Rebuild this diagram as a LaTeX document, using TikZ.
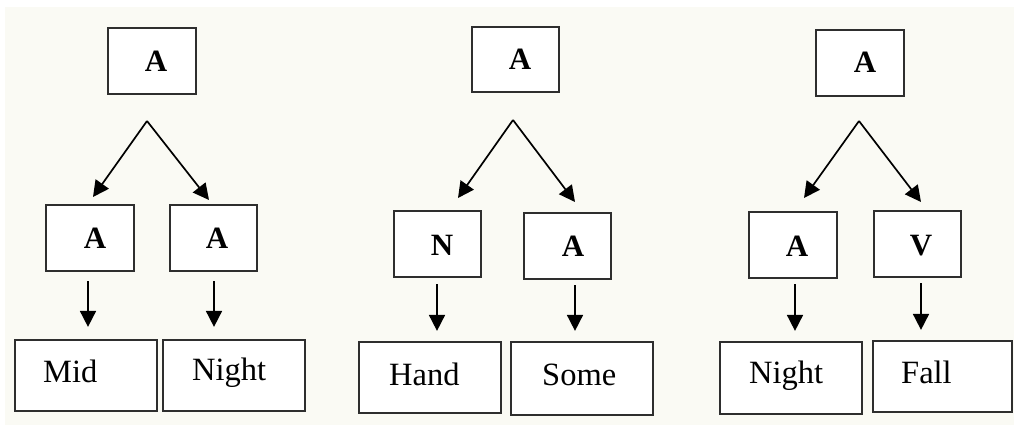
\documentclass[tikz,border=0pt]{standalone}
\usepackage{fontspec}
\setmainfont{Liberation Serif}
\usetikzlibrary{arrows.meta}
\definecolor{paper}{HTML}{FAFAF4}
\definecolor{edge}{HTML}{2E2E2E}
\begin{document}
\begin{tikzpicture}[x=1pt,y=-1pt,
  box/.style={draw=edge,line width=2.2pt,fill=white,inner sep=0pt,
              minimum width=#1},
  box/.default=88pt,
  tag/.style={inner sep=0pt,anchor=base,font=\fontsize{31}{36}\selectfont\bfseries},
  word/.style={inner sep=0pt,anchor=base west,font=\fontsize{32.5}{38}\selectfont},
  arr/.style={line width=1.7pt,-{Triangle[length=16pt,width=16pt]}}]

\useasboundingbox (0,0) rectangle (1014,425);
\fill[paper] (5,7) rectangle (1014,425);

% ---------- first tree: Mid + Night ----------
\node[box,minimum height=66pt] (t1) at (152,61) {};
\node[box,minimum height=66pt] (l1) at (90,238) {};
\node[box=87pt,minimum height=66pt] (r1) at (213.5,238) {};
\node[box=142pt,minimum height=71pt] (lb1) at (86,375.5) {};
\node[box=142pt,minimum height=71pt] (rb1) at (234,375.5) {};
\node[tag] (t1a) at (156,72) {A};
\node[tag] (l1a) at (95,248) {A};
\node[tag] (r1a) at (217,248) {A};
\node[word] (lb1w) at (43,382) {Mid};
\node[word] (rb1w) at (192,380) {Night};
\coordinate (ap1) at (147,121);
\coordinate (tl1) at (93,197);
\coordinate (tr1) at (209,200);
\draw[arr] (ap1) -- (tl1);
\draw[arr] (ap1) -- (tr1);
\draw[arr,shorten <=9pt,shorten >=12pt] ([xshift=-2pt]l1.south) -- ([xshift=-2pt]l1.south |- lb1.north);
\draw[arr,shorten <=9pt,shorten >=12pt] ([xshift=0.5pt]r1.south) -- ([xshift=0.5pt]r1.south |- rb1.north);

% ---------- second tree: Hand + Some ----------
\node[box=87pt,minimum height=65pt] (t2) at (515.5,59.5) {};
\node[box=87pt,minimum height=66pt] (l2) at (437.5,244) {};
\node[box=87pt,minimum height=66pt] (r2) at (567.5,246) {};
\node[box=142pt,minimum height=71pt] (lb2) at (430,377.5) {};
\node[box=142pt,minimum height=73pt] (rb2) at (582,378.5) {};
\node[tag] (t2a) at (520,70) {A};
\node[tag] (l2a) at (442,255) {N};
\node[tag] (r2a) at (573,256) {A};
\node[word] (lb2w) at (389,385) {Hand};
\node[word] (rb2w) at (542,385) {Some};
\coordinate (ap2) at (513,120);
\coordinate (tl2) at (458,198);
\coordinate (tr2) at (575,202);
\draw[arr] (ap2) -- (tl2);
\draw[arr] (ap2) -- (tr2);
\draw[arr,shorten <=6pt,shorten >=10pt] ([xshift=-0.5pt]l2.south) -- ([xshift=-0.5pt]l2.south |- lb2.north);
\draw[arr,shorten <=5pt,shorten >=10pt] ([xshift=7.5pt]r2.south) -- ([xshift=7.5pt]r2.south |- rb2.north);

% ---------- third tree: Night + Fall ----------
\node[box,minimum height=66pt] (t3) at (860,63) {};
\node[box,minimum height=66pt] (l3) at (793,245) {};
\node[box=87pt,minimum height=66pt] (r3) at (917.5,244) {};
\node[box=142pt,minimum height=72pt] (lb3) at (791,378) {};
\node[box=139pt,minimum height=71pt] (rb3) at (942.5,376.5) {};
\node[tag] (t3a) at (865,73) {A};
\node[tag] (l3a) at (797,256) {A};
\node[tag] (r3a) at (921,255) {V};
\node[word] (lb3w) at (749,383) {Night};
\node[word] (rb3w) at (901,383) {Fall};
\coordinate (ap3) at (859,121);
\coordinate (tl3) at (804,198);
\coordinate (tr3) at (921,202);
\draw[arr] (ap3) -- (tl3);
\draw[arr] (ap3) -- (tr3);
\draw[arr,shorten <=5pt,shorten >=10pt] ([xshift=2pt]l3.south) -- ([xshift=2pt]l3.south |- lb3.north);
\draw[arr,shorten <=5pt,shorten >=10pt] ([xshift=3.5pt]r3.south) -- ([xshift=3.5pt]r3.south |- rb3.north);
\end{tikzpicture}
\end{document}
